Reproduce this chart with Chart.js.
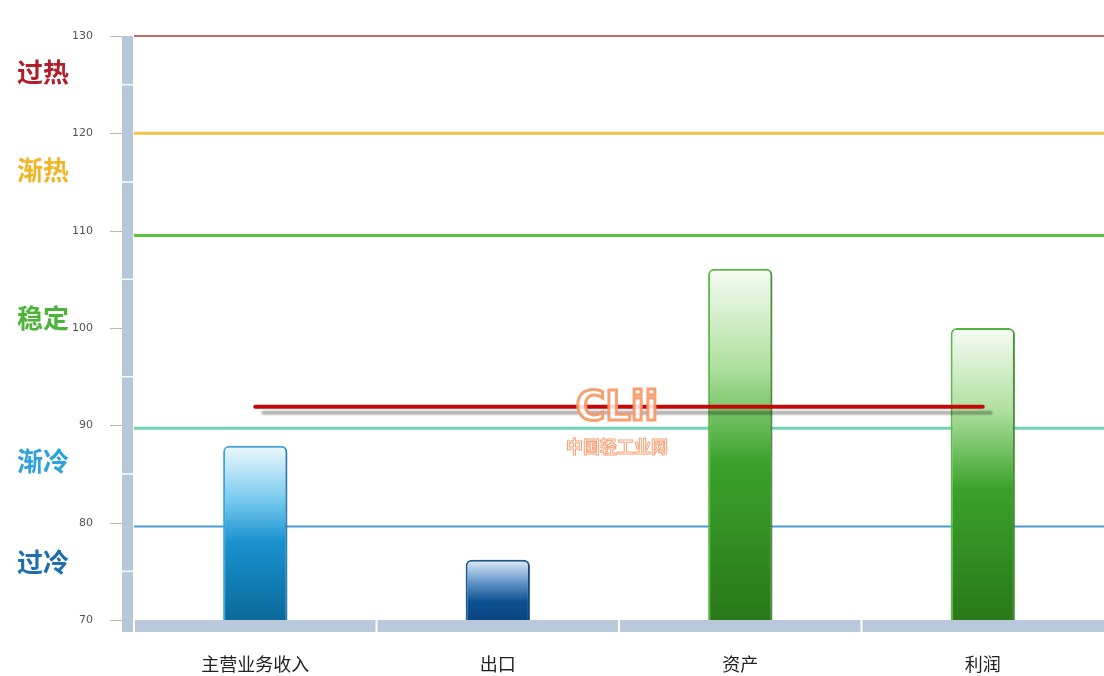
<!DOCTYPE html>
<html>
<head>
<meta charset="utf-8">
<script src="https://cdn.jsdelivr.net/npm/chart.js@4/dist/chart.umd.min.js"></script>
<style>
  html,body{margin:0;padding:0;background:#fff;}
  #wrap{width:1104px;height:676px;}
</style>
</head>
<body>
<div id="wrap"><canvas id="c" width="1104" height="676"></canvas></div>
<script>
// ---- data ----
const categories = ['主营业务收入', '出口', '资产', '利润'];
const barValues = [87.9, 76.2, 106.1, 100.0];
const averageValues = [91.9, 91.9, 91.9, 91.9];
const yTicks = [70, 80, 90, 100, 110, 120, 130];
const yMinorTicks = [75, 85, 95, 105, 115, 125];
const thresholdValues = [130, 120, 109.5, 89.7, 79.6];
const zoneLabels = ['过热', '渐热', '稳定', '渐冷', '过冷'];
const zoneLabelValues = [126.3, 116.2, 101.0, 86.3, 75.9];
const watermarkText = ['CLii', '中国轻工业网'];

// ---- styles ----
const thresholdColors = ['#c46a6a', '#f4c24a', '#5cc43c', '#72d0b4', '#4a9cd2'];
const thresholdWidths = [2, 3, 3, 3, 2];
const zoneColors = ['#b0202c', '#f0b628', '#4db43a', '#2ea2dc', '#1f6fae'];
const barBorderColors = ['#3aa8e2', '#1c5c9c', '#5cba48', '#5cba48'];
const barStops = [
  [[0, '#eef8fd'], [0.3, '#7cccf0'], [0.55, '#1a92d0'], [1, '#0a6a9a']],
  [[0, '#e4eef8'], [0.35, '#6a9ccc'], [0.7, '#0c5092'], [1, '#0a4580']],
  [[0, '#f6fcf4'], [0.28, '#b0e0a0'], [0.55, '#3aa22a'], [1, '#2a781a']],
  [[0, '#f6fcf4'], [0.28, '#b0e0a0'], [0.55, '#3aa22a'], [1, '#2a781a']]
];
const CJK = '"Noto Sans CJK SC", "Noto Sans", sans-serif';

function barGradient(context) {
  const chart = context.chart;
  const stops = barStops[context.dataIndex] || barStops[0];
  if (!chart.chartArea || context.type !== 'data') return stops[2][1];
  const y = chart.scales.y;
  const top = y.getPixelForValue(context.raw);
  const bottom = y.getPixelForValue(y.min);
  const g = chart.ctx.createLinearGradient(0, top, 0, bottom);
  stops.forEach(s => g.addColorStop(s[0], s[1]));
  return g;
}

const decorPlugin = {
  id: 'decor',
  beforeDatasetsDraw(chart) {
    const {ctx, chartArea, scales} = chart;
    const y = scales.y, x = scales.x;
    ctx.save();
    // threshold lines
    thresholdValues.forEach((v, i) => {
      const py = y.getPixelForValue(v);
      ctx.strokeStyle = thresholdColors[i];
      ctx.lineWidth = thresholdWidths[i];
      ctx.beginPath();
      ctx.moveTo(chartArea.left, py);
      ctx.lineTo(chartArea.right, py);
      ctx.stroke();
    });
    // y axis thick bar
    const top = y.getPixelForValue(y.max);
    const bot = chartArea.bottom + 12;
    ctx.fillStyle = '#b5c7d9';
    ctx.fillRect(chartArea.left - 12, top, 11, bot - top);
    // tick marks
    ctx.strokeStyle = '#b8b8b8';
    ctx.lineWidth = 1;
    yTicks.forEach(v => {
      const py = Math.round(y.getPixelForValue(v)) + 0.5;
      ctx.beginPath();
      ctx.moveTo(chartArea.left - 24, py);
      ctx.lineTo(chartArea.left - 12, py);
      ctx.stroke();
    });
    // minor separators
    ctx.strokeStyle = '#ffffff';
    ctx.lineWidth = 1.5;
    yMinorTicks.forEach(v => {
      const py = y.getPixelForValue(v);
      ctx.beginPath();
      ctx.moveTo(chartArea.left - 12, py);
      ctx.lineTo(chartArea.left - 1, py);
      ctx.stroke();
    });
    // x axis thick bar
    ctx.fillStyle = '#b9c9db';
    ctx.fillRect(chartArea.left + 1, chartArea.bottom, chartArea.right - chartArea.left, 12);
    ctx.strokeStyle = '#ffffff';
    ctx.lineWidth = 2;
    for (let i = 1; i < categories.length; i++) {
      const px = (x.getPixelForValue(i - 1) + x.getPixelForValue(i)) / 2;
      ctx.beginPath();
      ctx.moveTo(px, chartArea.bottom);
      ctx.lineTo(px, chartArea.bottom + 12);
      ctx.stroke();
    }
    // zone labels
    ctx.font = 'bold 26px ' + CJK;
    ctx.textAlign = 'left';
    ctx.textBaseline = 'middle';
    zoneLabels.forEach((t, i) => {
      ctx.fillStyle = zoneColors[i];
      ctx.fillText(t, 17, y.getPixelForValue(zoneLabelValues[i]));
    });
    ctx.restore();
  },
  beforeDatasetDraw(chart, args) {
    const ctx = chart.ctx;
    ctx.save();
    if (args.meta.type === 'bar') {
      ctx.shadowColor = 'rgba(0,0,0,0.28)';
      ctx.shadowOffsetX = 3;
      ctx.shadowOffsetY = 1;
      ctx.shadowBlur = 4;
    } else {
      ctx.shadowColor = 'rgba(0,0,0,0.3)';
      ctx.shadowOffsetX = 8;
      ctx.shadowOffsetY = 6;
      ctx.shadowBlur = 2;
    }
  },
  afterDatasetDraw(chart) {
    chart.ctx.restore();
  },
  afterDatasetsDraw(chart) {
    const {ctx, chartArea} = chart;
    const cx = (chartArea.left + chartArea.right) / 2 - 2;
    ctx.save();
    ctx.textAlign = 'center';
    ctx.textBaseline = 'middle';
    ctx.font = 'bold 40px "DejaVu Sans", sans-serif';
    ctx.lineWidth = 3;
    ctx.strokeStyle = 'rgba(246,150,100,0.9)';
    ctx.fillStyle = 'rgba(255,255,255,0.85)';
    ctx.fillText(watermarkText[0], cx, 410);
    ctx.strokeText(watermarkText[0], cx, 410);
    ctx.font = 'bold 17px ' + CJK;
    ctx.lineWidth = 1;
    ctx.fillStyle = 'rgba(255,255,255,0.7)';
    ctx.fillText(watermarkText[1], cx, 447);
    ctx.strokeText(watermarkText[1], cx, 447);
    ctx.restore();
  }
};

new Chart(document.getElementById('c'), {
  data: {
    labels: categories,
    datasets: [
      {
        type: 'line',
        order: 0,
        data: averageValues,
        borderColor: '#c40808',
        borderWidth: 4,
        borderCapStyle: 'round',
        pointRadius: 0,
        fill: false,
        tension: 0
      },
      {
        type: 'bar',
        order: 1,
        data: barValues,
        backgroundColor: barGradient,
        borderColor: barBorderColors,
        borderWidth: 2,
        borderSkipped: 'bottom',
        borderRadius: {topLeft: 6, topRight: 6, bottomLeft: 0, bottomRight: 0},
        categoryPercentage: 1,
        barPercentage: 0.265
      }
    ]
  },
  options: {
    responsive: false,
    animation: false,
    devicePixelRatio: 1,
    layout: {padding: {top: 36, left: 0, right: 0, bottom: 0}},
    plugins: {legend: {display: false}, tooltip: {enabled: false}},
    scales: {
      x: {
        grid: {display: false, drawTicks: false},
        border: {display: false},
        ticks: {color: '#222', font: {size: 18, family: CJK}, padding: 33, maxRotation: 0},
        afterFit(s) { s.height = 56; }
      },
      y: {
        min: 70,
        max: 130,
        grid: {display: false, drawTicks: false},
        border: {display: false},
        afterBuildTicks(s) { s.ticks = yTicks.map(v => ({value: v})); },
        ticks: {color: '#555', font: {size: 11, family: '"DejaVu Sans", sans-serif'}, padding: 41},
        afterFit(s) { s.width = 134; s.paddingTop = 6; s.paddingBottom = 6; }
      }
    }
  },
  plugins: [decorPlugin]
});
</script>
</body>
</html>
